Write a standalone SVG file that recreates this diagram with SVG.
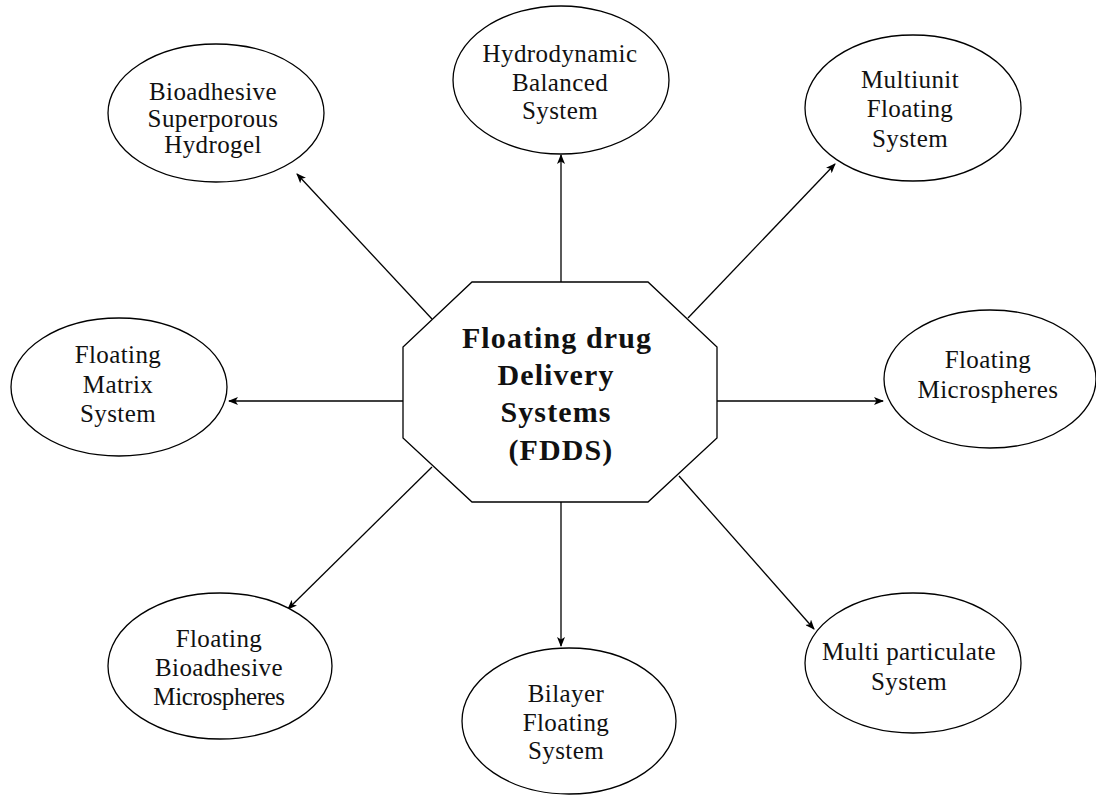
<svg xmlns="http://www.w3.org/2000/svg" width="1096" height="797" viewBox="0 0 1096 797">
<style>
.n{fill:#fff;stroke:#000;stroke-width:1.3}
.t{font-family:"Liberation Serif","Times New Roman",serif;font-size:25px;letter-spacing:0.4px;fill:#111;text-anchor:middle}
.c{font-family:"Liberation Serif","Times New Roman",serif;font-size:30px;font-weight:bold;letter-spacing:1.1px;fill:#111;text-anchor:middle}
.e{stroke:#000;stroke-width:1.3;fill:none;marker-end:url(#ah)}
</style>
<defs>
<marker id="ah" markerWidth="10" markerHeight="8" refX="9" refY="4" orient="auto" markerUnits="userSpaceOnUse">
<path d="M0,0 L10,4 L0,8 L2.5,4 z" fill="#000"/>
</marker>
</defs>
<rect width="1096" height="797" fill="#fff"/>
<g id="connectors">
<line class="e" x1="561" y1="282" x2="561" y2="155"/>
<line class="e" x1="432" y1="319" x2="297" y2="174"/>
<line class="e" x1="688" y1="318" x2="835" y2="164"/>
<line class="e" x1="403" y1="401" x2="229" y2="401"/>
<line class="e" x1="717" y1="401" x2="883" y2="401"/>
<line class="e" x1="432" y1="467" x2="288" y2="609"/>
<line class="e" x1="561" y1="502" x2="561" y2="646"/>
<line class="e" x1="679" y1="476" x2="814" y2="629"/>
</g>
<g id="center">
<polygon class="n" points="472,282 648,282 717,347 717,438 648,502 472,502 403,438 403,347"/>
<text class="c" x="557" y="348">Floating drug</text>
<text class="c" x="556" y="385">Delivery</text>
<text class="c" x="556" y="422">Systems</text>
<text class="c" x="561" y="460">(FDDS)</text>
</g>
<g id="bioadhesive-superporous-hydrogel">
<ellipse class="n" cx="216" cy="113" rx="108" ry="69"/>
<text class="t" x="213" y="100">Bioadhesive</text>
<text class="t" x="213" y="127">Superporous</text>
<text class="t" x="213" y="153">Hydrogel</text>
</g>
<g id="hydrodynamic-balanced-system">
<ellipse class="n" cx="561" cy="80" rx="108" ry="74"/>
<text class="t" x="560" y="62">Hydrodynamic</text>
<text class="t" x="560" y="91">Balanced</text>
<text class="t" x="560" y="119">System</text>
</g>
<g id="multiunit-floating-system">
<ellipse class="n" cx="913" cy="108" rx="108" ry="73"/>
<text class="t" x="910" y="88">Multiunit</text>
<text class="t" x="910" y="117">Floating</text>
<text class="t" x="910" y="147">System</text>
</g>
<g id="floating-matrix-system">
<ellipse class="n" cx="119" cy="387" rx="108" ry="69"/>
<text class="t" x="118" y="363">Floating</text>
<text class="t" x="118" y="393">Matrix</text>
<text class="t" x="118" y="422">System</text>
</g>
<g id="floating-microspheres">
<ellipse class="n" cx="990" cy="379" rx="106" ry="69"/>
<text class="t" x="988" y="368">Floating</text>
<text class="t" x="988" y="398">Microspheres</text>
</g>
<g id="floating-bioadhesive-microspheres">
<ellipse class="n" cx="220" cy="666" rx="112" ry="73"/>
<text class="t" x="219" y="647">Floating</text>
<text class="t" x="219" y="676">Bioadhesive</text>
<text class="t" x="219" y="705" style="letter-spacing:-0.4px">Microspheres</text>
</g>
<g id="bilayer-floating-system">
<ellipse class="n" cx="569" cy="721" rx="107" ry="73"/>
<text class="t" x="566" y="702">Bilayer</text>
<text class="t" x="566" y="731">Floating</text>
<text class="t" x="566" y="759">System</text>
</g>
<g id="multi-particulate-system">
<ellipse class="n" cx="913" cy="663" rx="108" ry="70"/>
<text class="t" x="909" y="660">Multi particulate</text>
<text class="t" x="909" y="690">System</text>
</g>
</svg>
